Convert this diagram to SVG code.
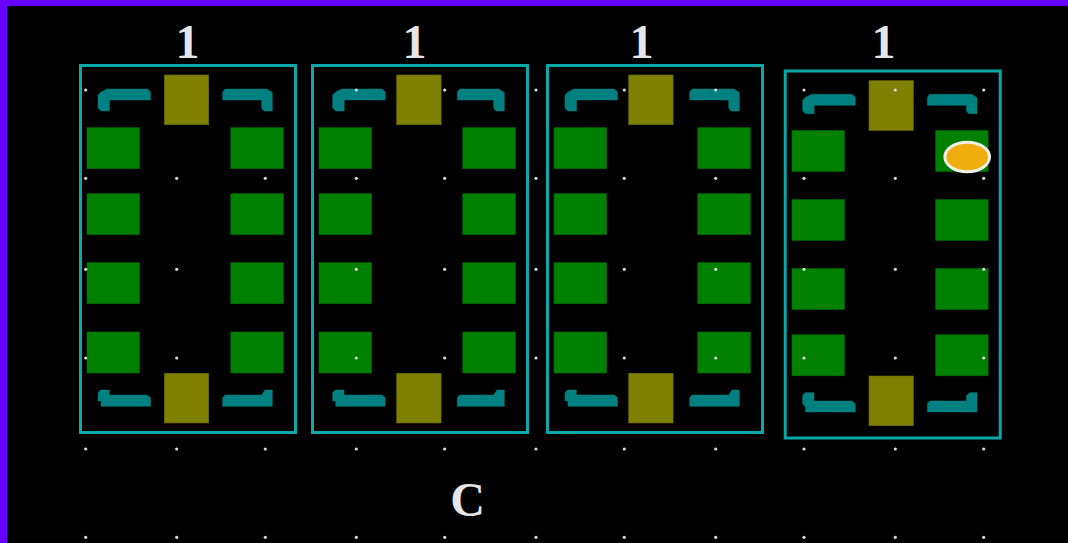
<svg xmlns="http://www.w3.org/2000/svg" width="1068" height="543" viewBox="0 0 1068 543">
<style>
.pk{fill:none;stroke:#0aa8a8;stroke-width:3}
.ol{fill:#808000;stroke:#6a6a00;stroke-width:.6}
.gr{fill:#008000;stroke:#006a00;stroke-width:.6}
.br{fill:#008080;stroke:#008080;stroke-width:.5;stroke-linejoin:round}
.lb{font-family:"Liberation Serif",serif;font-weight:bold;font-size:48px;fill:#e6e6e6;text-anchor:middle}
.dots circle{fill:#dcdcdc;r:1.6px}
</style>
<defs>
<path id="TL" class="br" d="M107 89H147.500L150.500 92V100H109.500V111H101L98 108V95L101 92Z"/>
<path id="TR" class="br" d="M222.700 92L225 89H267L272.300 92.500V111H264L261.700 108V100H222.700Z"/>
<path id="TR2" class="br" d="M225.300 92L227.500 89H267L272.300 92.500V111H264L261.700 108V100H225.300Z"/>
<path id="BL" class="br" d="M100.500 390H109.300V395H147.300L150.500 397.700V406.300H101V401H98V392.700Z"/>
<path id="BR" class="br" d="M222.700 397.700L225 395H261.700L265 390H272.300V406.300H222.700Z"/>
<path id="BR2" class="br" d="M225.300 397.700L227.500 395H261.700L265 390H272.300V406.300H225.300Z"/>
<path id="TL4" class="br" d="M107 94.300H147.500L150.600 97.300V105.300H109.500V113.700H101L98 111V100L101 97.300Z"/>
<path id="TR4" class="br" d="M222.700 97.300L225 94.300H267L272.300 97.800V113.700H264L261.700 111V105.300H222.700Z"/>
<path id="BL4" class="br" d="M100.500 392.700H109.300V401H147.300L150.500 403.700V412H101V407L98 404V395.400Z"/>
<path id="BR4" class="br" d="M222.700 403.700L225 401H261.700V395.500L265 392.700H272.300V412H222.700Z"/>
<g id="pads"><rect class="gr" x="87" y="127.700" width="52.500" height="41"/><rect class="gr" x="87" y="193.700" width="52.500" height="41"/><rect class="gr" x="87" y="262.700" width="52.500" height="41"/><rect class="gr" x="87" y="332" width="52.500" height="41"/><rect class="gr" x="230.800" y="127.700" width="52.500" height="41"/><rect class="gr" x="230.800" y="193.700" width="52.500" height="41"/><rect class="gr" x="230.800" y="262.700" width="52.500" height="41"/><rect class="gr" x="230.800" y="332" width="52.500" height="41"/></g>
</defs>
<rect width="1068" height="543" fill="#000"/>
<rect width="1068" height="6" fill="#6600ff"/>
<rect width="7" height="543" fill="#6600ff"/>
<g id="package-1">
<rect class="pk" x="80.500" y="65.500" width="215" height="367"/>
<use href="#pads"/>
<rect class="ol" x="164.300" y="75" width="44.400" height="49.700"/>
<rect class="ol" x="164.300" y="373.300" width="44.400" height="49.700"/>
<use href="#TL"/><use href="#TR"/><use href="#BL"/><use href="#BR"/>
</g>
<g id="package-2">
<rect class="pk" x="312.500" y="65.500" width="215" height="367"/>
<use href="#pads" x="232"/>
<rect class="ol" x="396.700" y="75" width="44.400" height="49.700"/>
<rect class="ol" x="396.700" y="373.300" width="44.400" height="49.700"/>
<use href="#TL" x="234.700"/><use href="#TR2" x="232"/><use href="#BL" x="234.700"/><use href="#BR2" x="232"/>
</g>
<g id="package-3">
<rect class="pk" x="547.500" y="65.500" width="215" height="367"/>
<use href="#pads" x="467"/>
<rect class="ol" x="628.700" y="75" width="44.400" height="49.700"/>
<rect class="ol" x="628.700" y="373.300" width="44.400" height="49.700"/>
<use href="#TL" x="467"/><use href="#TR" x="467"/><use href="#BL" x="467"/><use href="#BR" x="467"/>
</g>
<g id="package-4">
<rect class="pk" x="785.200" y="71" width="215" height="367"/>
<rect class="gr" x="792" y="130.500" width="52.400" height="41"/><rect class="gr" x="792" y="199.500" width="52.400" height="41"/><rect class="gr" x="792" y="268.500" width="52.400" height="41"/><rect class="gr" x="792" y="334.800" width="52.400" height="41"/>
<rect class="gr" x="935.700" y="130.500" width="52.400" height="41"/><rect class="gr" x="935.700" y="199.500" width="52.400" height="41"/><rect class="gr" x="935.700" y="268.500" width="52.400" height="41"/><rect class="gr" x="935.700" y="334.800" width="52.400" height="41"/>
<rect class="ol" x="869" y="80.700" width="44.400" height="49.700"/>
<rect class="ol" x="869" y="376" width="44.400" height="49.700"/>
<use href="#TL4" x="704.700"/><use href="#TR4" x="704.700"/><use href="#BL4" x="704.700"/><use href="#BR4" x="704.700"/>
</g>
<g id="grid" class="dots">
<circle cx="85.700" cy="90"/><circle cx="356.300" cy="90"/><circle cx="444.700" cy="90"/><circle cx="536" cy="90"/><circle cx="624.300" cy="90"/><circle cx="715.700" cy="90"/><circle cx="804" cy="90"/><circle cx="895.300" cy="90"/><circle cx="983.700" cy="90"/>
<circle cx="85.700" cy="178.300"/><circle cx="176.700" cy="178.300"/><circle cx="265.300" cy="178.300"/><circle cx="356.300" cy="178.300"/><circle cx="444.700" cy="178.300"/><circle cx="536" cy="178.300"/><circle cx="624.300" cy="178.300"/><circle cx="715.700" cy="178.300"/><circle cx="804" cy="178.300"/><circle cx="895.300" cy="178.300"/><circle cx="983.700" cy="178.300"/>
<circle cx="85.700" cy="269.300"/><circle cx="176.700" cy="269.300"/><circle cx="356.300" cy="269.300"/><circle cx="444.700" cy="269.300"/><circle cx="536" cy="269.300"/><circle cx="624.300" cy="269.300"/><circle cx="715.700" cy="269.300"/><circle cx="804" cy="269.300"/><circle cx="895.300" cy="269.300"/><circle cx="983.700" cy="269.300"/>
<circle cx="85.700" cy="358"/><circle cx="176.700" cy="358"/><circle cx="356.300" cy="358"/><circle cx="444.700" cy="358"/><circle cx="536" cy="358"/><circle cx="624.300" cy="358"/><circle cx="715.700" cy="358"/><circle cx="804" cy="358"/><circle cx="895.300" cy="358"/><circle cx="983.700" cy="358"/>
<circle cx="85.700" cy="449"/><circle cx="176.700" cy="449"/><circle cx="265.300" cy="449"/><circle cx="356.300" cy="449"/><circle cx="444.700" cy="449"/><circle cx="536" cy="449"/><circle cx="624.300" cy="449"/><circle cx="715.700" cy="449"/><circle cx="804" cy="449"/><circle cx="895.300" cy="449"/><circle cx="983.700" cy="449"/>
<circle cx="85.700" cy="537.300"/><circle cx="176.700" cy="537.300"/><circle cx="265.300" cy="537.300"/><circle cx="356.300" cy="537.300"/><circle cx="444.700" cy="537.300"/><circle cx="536" cy="537.300"/><circle cx="624.300" cy="537.300"/><circle cx="715.700" cy="537.300"/><circle cx="804" cy="537.300"/><circle cx="895.300" cy="537.300"/><circle cx="983.700" cy="537.300"/>
</g>
<g id="marker"><ellipse cx="967.200" cy="157" rx="22.300" ry="14.800" fill="#f0ae0e" stroke="#f0f0e8" stroke-width="3"/></g>
<g id="labels">
<text class="lb" x="187.500" y="58">1</text>
<text class="lb" x="414.500" y="58">1</text>
<text class="lb" x="641.500" y="58">1</text>
<text class="lb" x="883.500" y="58">1</text>
<text class="lb" x="467.500" y="516">C</text>
</g>
</svg>
